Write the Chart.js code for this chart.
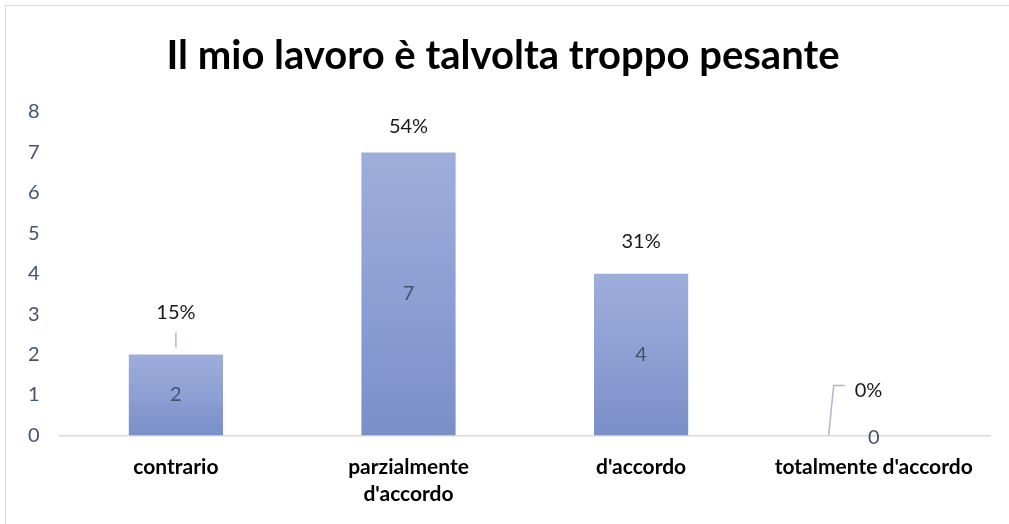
<!DOCTYPE html>
<html lang="it">
<head>
  <meta charset="UTF-8">
  <title>Il mio lavoro è talvolta troppo pesante</title>
  <script src="https://cdn.jsdelivr.net/npm/chart.js"></script>
  <style>
    html, body { margin: 0; padding: 0; background: #fff; }
    #frame {
      position: absolute; left: 5px; top: 5px; width: 1020px; height: 540px;
      border: 1px solid #d9d9d9; box-sizing: border-box;
    }
    #wrap { position: absolute; left: 0; top: 0; width: 1009px; height: 524px; }
  </style>
</head>
<body>
  <div id="frame"></div>
  <div id="wrap"><canvas id="myChart"></canvas></div>

  <script>
    const categories = ['contrario', ['parzialmente', "d'accordo"], "d'accordo", "totalmente d'accordo"];
    const counts = [2, 7, 4, 0];
    const percents = ['15%', '54%', '31%', '0%'];
    const yTicks = [0, 1, 2, 3, 4, 5, 6, 7, 8];

    const FONT = "Lato, 'Open Sans', sans-serif";

    // per-bar vertical gradient, lighter at top like the Excel fill
    function barFill(ctx) {
      const chart = ctx.chart;
      const y = chart.scales.y;
      if (!y || ctx.type !== 'data') return '#8c9fd4';
      const top = y.getPixelForValue(ctx.raw);
      const bottom = y.getPixelForValue(0);
      if (!isFinite(top) || !isFinite(bottom) || bottom - top < 1) return '#8c9fd4';
      const g = chart.ctx.createLinearGradient(0, top, 0, bottom);
      g.addColorStop(0, '#9eaedb');
      g.addColorStop(0.5, '#8d9fd3');
      g.addColorStop(1, '#7a8fc8');
      return g;
    }

    const labelPlugin = {
      id: 'barLabels',
      afterDatasetsDraw(chart) {
        const c = chart.ctx;
        const meta = chart.getDatasetMeta(0);
        const base = chart.scales.y.getPixelForValue(0);
        c.save();
        meta.data.forEach((bar, i) => {
          // value inside bar
          c.font = "20px " + FONT;
          c.fillStyle = '#44546a';
          c.textAlign = 'center';
          c.textBaseline = 'middle';
          const mid = counts[i] > 0 ? (bar.y + base) / 2 : base + 2;
          c.fillText(String(counts[i]), bar.x, mid);

          // percent label above
          c.font = "20px " + FONT;
          c.fillStyle = '#1a1a1a';
          c.strokeStyle = '#adb9ca';
          c.lineWidth = 1.5;
          if (counts[i] === 0) {
            c.textAlign = 'left';
            c.fillText(percents[i], bar.x - 19, base - 45);
            c.beginPath();
            c.moveTo(bar.x - 45, base);
            c.lineTo(bar.x - 40, base - 50);
            c.lineTo(bar.x - 29, base - 50);
            c.stroke();
          } else {
            const gap = i === 0 ? 42 : (i === 1 ? 26 : 32);
            c.fillText(percents[i], bar.x, bar.y - gap);
            if (i === 0) {
              c.beginPath();
              c.moveTo(bar.x, bar.y - 7);
              c.lineTo(bar.x, bar.y - 22);
              c.stroke();
            }
          }
        });
        c.restore();
      }
    };

    const ctx = document.getElementById('myChart').getContext('2d');
    const myChart = new Chart(ctx, {
      type: 'bar',
      data: {
        labels: categories,
        datasets: [{
          data: counts,
          backgroundColor: barFill,
          borderWidth: 0,
          categoryPercentage: 1,
          barPercentage: 0.405
        }]
      },
      options: {
        responsive: true,
        maintainAspectRatio: false,
        animation: false,
        layout: { padding: { left: 16, right: 19, top: 24, bottom: 6 } },
        plugins: {
          legend: { display: false },
          tooltip: { enabled: false },
          title: {
            display: true,
            text: 'Il mio lavoro è talvolta troppo pesante',
            color: '#000',
            font: { family: FONT, size: 40, weight: 'bold' },
            padding: { top: 8, bottom: 32 }
          }
        },
        scales: {
          x: {
            grid: { display: false },
            border: { display: true, color: '#d9d9d9', width: 1.5 },
            ticks: {
              color: '#000',
              font: { family: FONT, size: 21, weight: 'bold', lineHeight: 1.3 },
              maxRotation: 0,
              padding: 10
            }
          },
          y: {
            min: 0,
            max: 8,
            afterBuildTicks(axis) { axis.ticks = yTicks.map(v => ({ value: v })); },
            grid: { display: false },
            border: { display: false },
            ticks: {
              color: '#44546a',
              font: { family: FONT, size: 20 },
              padding: 12
            }
          }
        }
      },
      plugins: [labelPlugin]
    });
  </script>
</body>
</html>
